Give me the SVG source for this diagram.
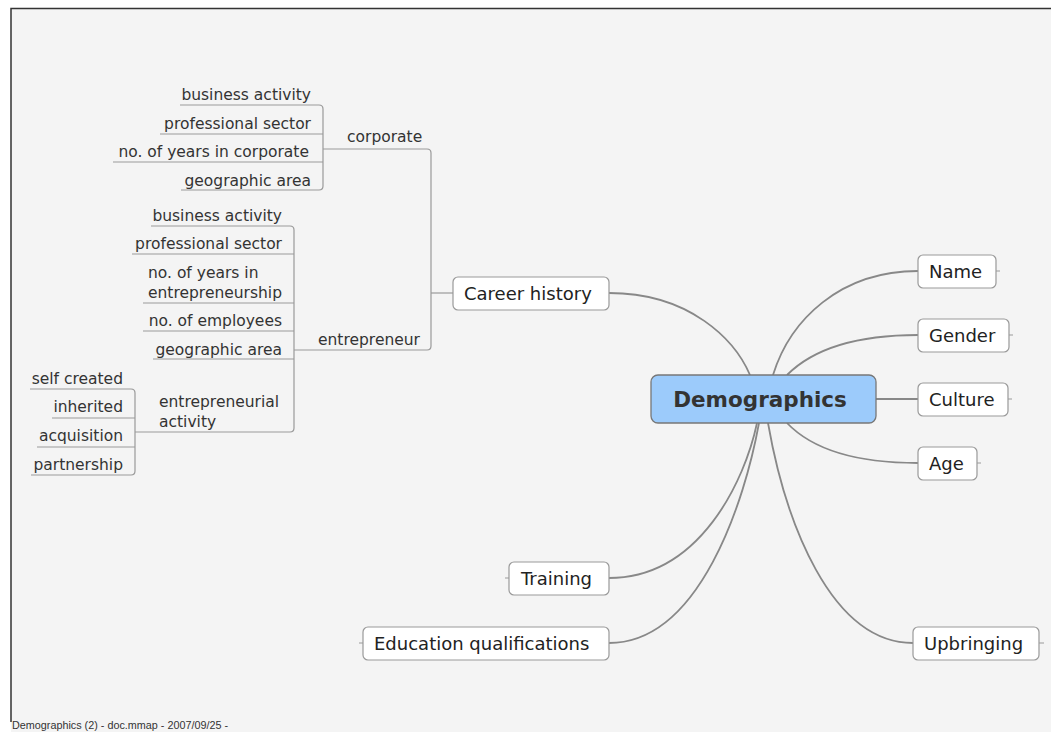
<svg xmlns="http://www.w3.org/2000/svg" width="1051" height="732" viewBox="0 0 1051 732">
<defs>
<style>
.bg{fill:#f4f4f4}
.frame{fill:none;stroke:#333;stroke-width:1.5}
.curve{fill:none;stroke:#888;stroke-width:1.8}
.tree{fill:none;stroke:#999;stroke-width:1.2}
.box{fill:#fff;stroke:#999;stroke-width:1.2}
.center{fill:#9ccbfb;stroke:#777;stroke-width:1.3}
.lbl{font-family:"DejaVu Sans",Verdana,sans-serif;font-size:15.5px;fill:#333}
.nl{font-family:"DejaVu Sans",Verdana,sans-serif;font-size:18px;fill:#222}
.ctr{font-family:"DejaVu Sans",Verdana,sans-serif;font-size:21.5px;font-weight:bold;fill:#333}
.end{text-anchor:end}
.foot{font-family:"Liberation Sans",Arial,sans-serif;font-size:10.8px;fill:#333}
</style>
</defs>
<rect x="0" y="0" width="1051" height="732" fill="#fff"/>
<rect class="bg" x="11" y="8" width="1040" height="724"/>
<path class="frame" d="M11,722 V8.5 H1051"/>
<text class="foot" x="12" y="729">Demographics (2) - doc.mmap - 2007/09/25 -</text>

<g id="connectors">
<path class="curve" d="M609,293 C690,293 735,340 750,375"/>
<path class="curve" d="M918,271 C840,271 790,320 773,375"/>
<path class="curve" d="M918,335 C850,335 810,352 787,375"/>
<path class="curve" d="M876,399 H918"/>
<path class="curve" d="M918,463 C850,463 810,447 787,423"/>
<path class="curve" d="M609,578 C700,578 745,480 757,423"/>
<path class="curve" d="M609,643 C700,643 745,500 759,423"/>
<path class="curve" d="M913,643 C830,643 785,520 768,423"/>
<path class="tree" d="M996,271 H1000 M1009,335 H1013 M1008,399 H1012 M977,463 H981 M1039,643 H1044 M509,578 H505 M363,643 H359"/>
<path class="tree" d="M453,293 H431"/>
<path class="tree" d="M323,149 H427 Q431,149 431,153 V346 Q431,350 427,350 H294"/>
<path class="tree" d="M180,105 H319 Q323,105 323,109 V186 Q323,190 319,190 H181 M160,134 H323 M113,162 H323"/>
<path class="tree" d="M151,226 H290 Q294,226 294,230 V428 Q294,432 290,432 H135 M132,254 H294 M143,303 H294 M143,331 H294 M153,359 H294"/>
<path class="tree" d="M30,389 H131 Q135,389 135,393 V471 Q135,475 131,475 H31 M52,418 H135 M37,447 H135"/>
</g>

<g id="demographics">
<rect class="center" x="651" y="375" width="225" height="48" rx="7"/>
<text class="ctr" x="760" y="407" text-anchor="middle">Demographics</text>
</g>
<g id="name"><rect class="box" x="918" y="255" width="78" height="33" rx="5"/><text class="nl" x="929" y="278">Name</text></g>
<g id="gender"><rect class="box" x="918" y="319" width="91" height="33" rx="5"/><text class="nl" x="929" y="342">Gender</text></g>
<g id="culture"><rect class="box" x="918" y="383" width="90" height="33" rx="5"/><text class="nl" x="929" y="406">Culture</text></g>
<g id="age"><rect class="box" x="918" y="447" width="59" height="33" rx="5"/><text class="nl" x="929" y="470">Age</text></g>
<g id="upbringing"><rect class="box" x="913" y="627" width="126" height="33" rx="5"/><text class="nl" x="924" y="650">Upbringing</text></g>
<g id="career-history"><rect class="box" x="453" y="277" width="156" height="33" rx="5"/><text class="nl" x="464" y="300">Career history</text></g>
<g id="training"><rect class="box" x="509" y="562" width="100" height="33" rx="5"/><text class="nl" x="521" y="585">Training</text></g>
<g id="education"><rect class="box" x="363" y="627" width="246" height="33" rx="5"/><text class="nl" x="374" y="650">Education qualifications</text></g>

<g id="corporate"><text class="lbl" x="347" y="142">corporate</text></g>
<g id="corp-business"><text class="lbl end" x="311" y="100">business activity</text></g>
<g id="corp-sector"><text class="lbl end" x="311" y="129">professional sector</text></g>
<g id="corp-years"><text class="lbl end" x="309" y="157">no. of years in corporate</text></g>
<g id="corp-geo"><text class="lbl end" x="311" y="186">geographic area</text></g>

<g id="entrepreneur"><text class="lbl" x="318" y="345">entrepreneur</text></g>
<g id="ent-business"><text class="lbl end" x="282" y="221">business activity</text></g>
<g id="ent-sector"><text class="lbl end" x="282" y="249">professional sector</text></g>
<g id="ent-years"><text class="lbl" x="148" y="278">no. of years in</text><text class="lbl" x="148" y="298">entrepreneurship</text></g>
<g id="ent-employees"><text class="lbl end" x="282" y="326">no. of employees</text></g>
<g id="ent-geo"><text class="lbl end" x="282" y="355">geographic area</text></g>
<g id="ent-activity"><text class="lbl" x="159" y="407">entrepreneurial</text><text class="lbl" x="159" y="427">activity</text></g>

<g id="self-created"><text class="lbl end" x="123" y="384">self created</text></g>
<g id="inherited"><text class="lbl end" x="123" y="412">inherited</text></g>
<g id="acquisition"><text class="lbl end" x="123" y="441">acquisition</text></g>
<g id="partnership"><text class="lbl end" x="123" y="470">partnership</text></g>
</svg>
